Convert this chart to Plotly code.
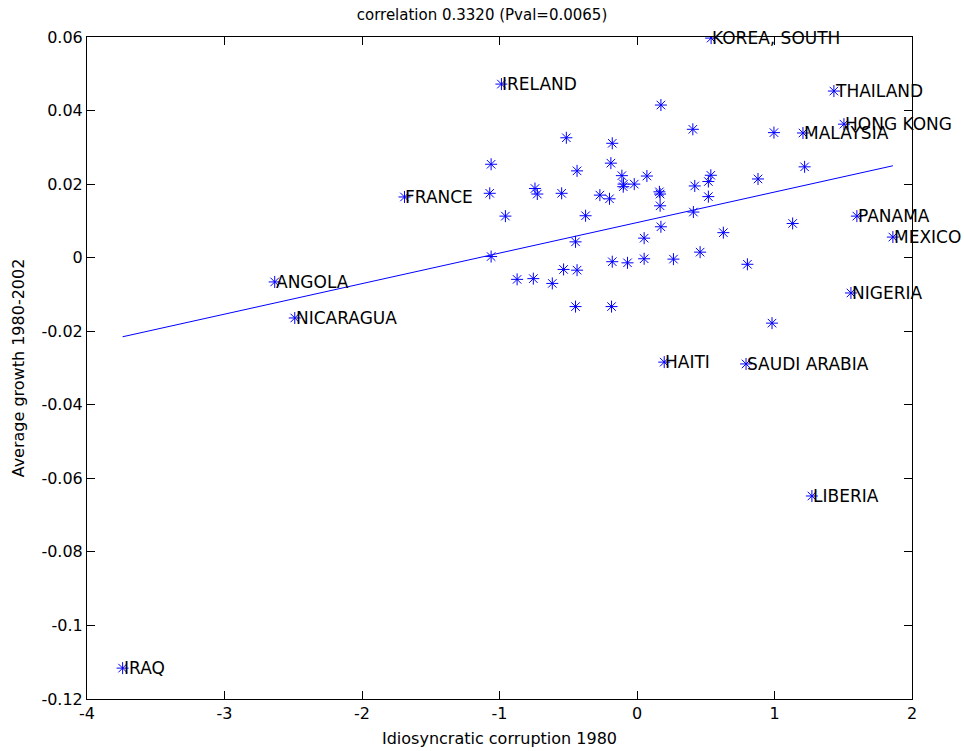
import numpy as np
import plotly.graph_objects as go

# Labeled countries
label_names = ["KOREA, SOUTH", "IRELAND", "THAILAND", "HONG KONG", "MALAYSIA", "FRANCE",
               "PANAMA", "MEXICO", "ANGOLA", "NIGERIA", "NICARAGUA", "HAITI",
               "SAUDI ARABIA", "LIBERIA", "IRAQ"]
label_x = [0.539, -0.986, 1.432, 1.505, 1.207, -1.691, 1.599, 1.861, -2.635, 1.556,
           -2.489, 0.198, 0.793, 1.272, -3.741]
label_y = [0.0597, 0.0472, 0.0453, 0.0363, 0.0339, 0.0165, 0.0113, 0.0056, -0.0066,
           -0.0096, -0.0164, -0.0284, -0.0289, -0.0648, -0.1116]

# Unlabeled countries
other_x = [-0.514, -0.180, -1.061, -0.190, -0.436, -0.110, 0.072, -0.098, -0.100, -0.020,
           -0.742, -0.725, -1.071, -0.548, -0.270, -0.200, -0.957, -0.374, -0.447, -1.061,
           0.052, -0.180, -0.069, 0.052, -0.534, -0.436, -0.872, -0.754, -0.616, -0.447,
           -0.185, 0.174, 0.406, 0.996, 1.219, 0.537, 0.519, 0.420, 0.880, 0.163,
           0.168, 0.519, 0.168, 0.410, 1.132, 0.174, 0.628, 0.265, 0.459, 0.803, 0.982]
other_y = [0.0326, 0.0311, 0.0254, 0.0257, 0.0236, 0.0223, 0.0222, 0.0200, 0.0193, 0.0200,
           0.0188, 0.0173, 0.0175, 0.0175, 0.0170, 0.0160, 0.0113, 0.0114, 0.0043, 0.0003,
           0.0053, -0.0011, -0.0014, -0.0003, -0.0032, -0.0034, -0.0059, -0.0057, -0.0070, -0.0133,
           -0.0133, 0.0415, 0.0349, 0.0340, 0.0247, 0.0224, 0.0207, 0.0195, 0.0214, 0.0179,
           0.0173, 0.0166, 0.0141, 0.0124, 0.0093, 0.0084, 0.0068, -0.0004, 0.0015, -0.0018, -0.0178]

# Fitted line (slope, intercept)
fit_slope = 0.0083
fit_intercept = 0.00954

x_ticks = [-4, -3, -2, -1, 0, 1, 2]
x_ticklabels = ["-4", "-3", "-2", "-1", "0", "1", "2"]
y_ticks = [0.06, 0.04, 0.02, 0, -0.02, -0.04, -0.06, -0.08, -0.1, -0.12]
y_ticklabels = ["0.06", "0.04", "0.02", "0", "-0.02", "-0.04", "-0.06", "-0.08", "-0.1", "-0.12"]

all_x = label_x + other_x
all_y = label_y + other_y

FONT = "DejaVu Sans, Verdana, sans-serif"

fig = go.Figure()
fig.add_trace(go.Scatter(
    x=all_x, y=all_y, mode="markers",
    marker=dict(symbol="asterisk-open", size=10, color="#0000ff",
                line=dict(color="#0000ff", width=1)),
    showlegend=False, hoverinfo="skip"))

lx = np.array([min(all_x), max(all_x)])
fig.add_trace(go.Scatter(
    x=lx, y=fit_slope * lx + fit_intercept, mode="lines",
    line=dict(color="#0000ff", width=1), showlegend=False, hoverinfo="skip"))

for n, x, y in zip(label_names, label_x, label_y):
    fig.add_annotation(x=x, y=y, text=n, showarrow=False, xanchor="left", yanchor="middle",
                       font=dict(family=FONT, size=17, color="black"), xshift=-1)

axis_common = dict(showline=True, linecolor="black", linewidth=1, mirror="ticks",
                   ticks="inside", ticklen=8, tickcolor="black", showgrid=False,
                   zeroline=False, automargin=False,
                   tickfont=dict(family=FONT, size=16, color="black"))

fig.update_layout(
    width=964, height=751,
    margin=dict(l=87, r=52, t=37, b=52),
    paper_bgcolor="white", plot_bgcolor="white",
    title=dict(text="correlation 0.3320 (Pval=0.0065)", x=0.5, xanchor="center",
               y=1 - 15 / 751, yanchor="middle", yref="container",
               font=dict(family=FONT, size=15, color="black")),
    xaxis=dict(range=[-4, 2], tickvals=x_ticks, ticktext=x_ticklabels,
               title=dict(text="Idiosyncratic corruption 1980", standoff=10,
                          font=dict(family=FONT, size=16, color="black")),
               **axis_common),
    yaxis=dict(range=[-0.12, 0.06], tickvals=y_ticks, ticktext=y_ticklabels,
               title=dict(text="Average growth 1980-2002", standoff=12,
                          font=dict(family=FONT, size=16, color="black")),
               **axis_common),
)

fig.write_html("out.html")
